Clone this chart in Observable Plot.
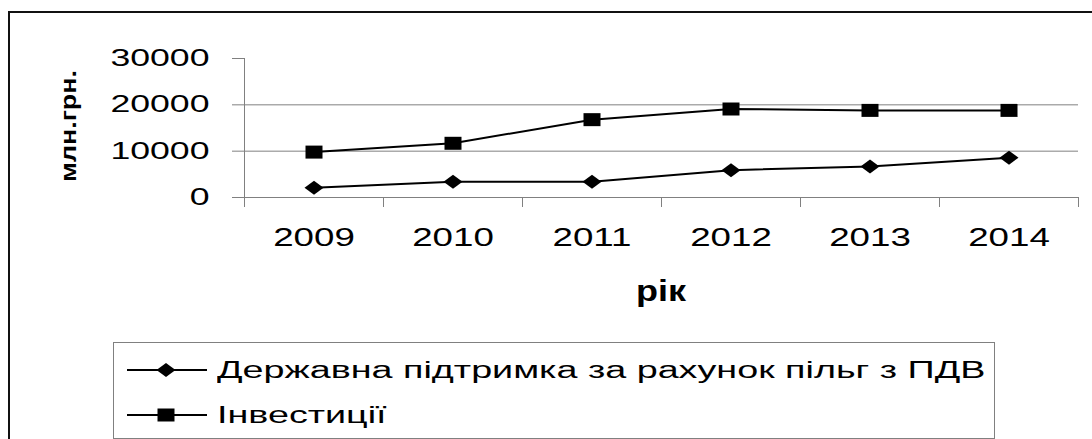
<!DOCTYPE html>
<html>
<head>
<meta charset="utf-8">
<script src="https://cdn.jsdelivr.net/npm/d3@7"></script>
<script src="https://cdn.jsdelivr.net/npm/@observablehq/plot@0.6"></script>
<style>
  html, body { margin: 0; padding: 0; background: #fff; overflow: hidden; }
  #wrap { position: relative; width: 1092px; height: 439px; overflow: hidden; font-family: "Liberation Sans", Arial, sans-serif; }
  #frame { position: absolute; left: 8px; top: 11px; width: 2000px; height: 1000px; border-left: 2px solid #111; border-top: 2px solid #111; }
  #chart { position: absolute; left: 0; top: 0; }
  #ylabel { position: absolute; left: 68px; top: 126px; font-weight: bold; font-size: 24px; white-space: nowrap; line-height: 1;
            transform: translate(-50%, -50%) rotate(-90deg) scale(1.12, 0.95); }
  #xlabel { position: absolute; left: 661px; top: 276px; font-weight: bold; font-size: 30px; white-space: nowrap; line-height: 1;
            transform: translate(-50%, 0) scaleX(1.2); transform-origin: 50% 0; }
  #legend { position: absolute; left: 113px; top: 342px; width: 880px; height: 95px; border: 1px solid #808080; box-sizing: content-box; }
  .row { position: absolute; left: 13px; height: 20px; display: flex; align-items: center; }
  .row svg { display: block; }
  .row span { display: inline-block; font-size: 23px; white-space: nowrap; transform: scaleX(1.64); transform-origin: 0 50%; margin-left: 10px; line-height: 1; }
</style>
</head>
<body>
<div id="wrap">
  <div id="frame"></div>
  <div id="chart"></div>
  <div id="ylabel"></div>
  <div id="xlabel"></div>
  <div id="legend"></div>
</div>
<script>
// ---- data ----
const years = ["2009", "2010", "2011", "2012", "2013", "2014"];
const support = [2100, 3400, 3400, 5900, 6700, 8600];      // Державна підтримка за рахунок пільг з ПДВ
const invest = [9800, 11700, 16800, 19100, 18800, 18800];   // Інвестиції
const seriesNames = ["Державна підтримка за рахунок пільг з ПДВ", "Інвестиції"];
const yTicks = [0, 10000, 20000, 30000];
const gridTicks = [10000, 20000];
const yLabel = "млн.грн.";
const xLabel = "рік";

// ---- build table ----
const rows = [];
years.forEach((yr, i) => {
  rows.push({series: seriesNames[0], xi: i + 0.5, v: support[i]});
  rows.push({series: seriesNames[1], xi: i + 0.5, v: invest[i]});
});
const supportRows = rows.filter(d => d.series === seriesNames[0]);
const investRows = rows.filter(d => d.series === seriesNames[1]);

// custom symbols (Excel-like markers)
const diamond = {draw(ctx) { ctx.moveTo(0, -7); ctx.lineTo(9.5, 0); ctx.lineTo(0, 7); ctx.lineTo(-9.5, 0); ctx.closePath(); }};
const square = {draw(ctx) { ctx.moveTo(-8.5, -6.5); ctx.lineTo(8.5, -6.5); ctx.lineTo(8.5, 6.5); ctx.lineTo(-8.5, 6.5); ctx.closePath(); }};

const boundaries = d3.range(0, years.length + 1);
const centers = years.map((_, i) => i + 0.5);

const chart = Plot.plot({
  width: 1092,
  height: 439,
  marginLeft: 244,
  marginRight: 14,
  marginTop: 58,
  marginBottom: 242,
  x: {domain: [0, years.length], axis: null, label: null},
  y: {domain: [0, 30000], axis: null, label: null},
  style: {fontFamily: '"Liberation Sans", Arial, sans-serif', background: "transparent", color: "black"},
  marks: [
    Plot.gridY(gridTicks, {stroke: "#808080", strokeOpacity: 1, strokeWidth: 1}),
    Plot.ruleY([0], {stroke: "#808080"}),
    Plot.ruleX([0], {stroke: "#808080"}),
    Plot.axisY(yTicks, {label: null, tickSize: 12, tickPadding: 23, fontSize: 23, stroke: "#808080", fill: "black", tickFormat: d => String(d)}),
    Plot.axisX(boundaries, {label: null, tickSize: 10, stroke: "#808080", tickFormat: () => ""}),
    Plot.axisX(centers, {label: null, tickSize: 0, tickPadding: 31, fontSize: 25, fill: "black", tickFormat: d => years[Math.round(d - 0.5)]}),
    Plot.line(rows, {x: "xi", y: "v", z: "series", stroke: "black", strokeWidth: 2}),
    Plot.dot(supportRows, {x: "xi", y: "v", symbol: diamond, fill: "black", stroke: "none"}),
    Plot.dot(investRows, {x: "xi", y: "v", symbol: square, fill: "black", stroke: "none"})
  ]
});

// stretch tick labels horizontally like the reference
function stretch(t, s) {
  const tr = t.getAttribute("transform") || "";
  const x = +t.getAttribute("x") || 0;
  t.setAttribute("transform", `${tr} translate(${x},0) scale(${s},1) translate(${-x},0)`);
}
chart.querySelectorAll("text").forEach(t => {
  const g = t.closest("g[aria-label]");
  const lab = g ? g.getAttribute("aria-label") : "";
  stretch(t, lab.startsWith("y") ? 1.55 : 1.47);
});
document.getElementById("chart").appendChild(chart);

document.getElementById("ylabel").textContent = yLabel;
document.getElementById("xlabel").textContent = xLabel;

// legend
const legend = document.getElementById("legend");
const legendTops = [17, 62];
[diamond, square].forEach((sym, i) => {
  const row = document.createElement("div");
  row.className = "row";
  row.style.top = legendTops[i] + "px";
  const sw = d3.create("svg").attr("width", 80).attr("height", 20);
  sw.append("line").attr("x1", 0).attr("x2", 80).attr("y1", 10).attr("y2", 10).attr("stroke", "black").attr("stroke-width", 2);
  sw.append("path").attr("d", d3.symbol(sym)()).attr("transform", "translate(39,10)").attr("fill", "black");
  row.appendChild(sw.node());
  const span = document.createElement("span");
  span.textContent = seriesNames[i];
  row.appendChild(span);
  legend.appendChild(row);
});
</script>
</body>
</html>
